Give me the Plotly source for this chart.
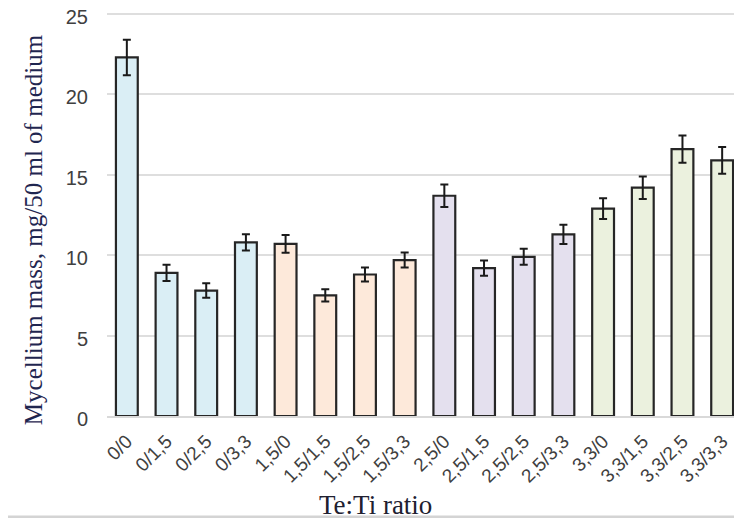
import plotly.graph_objects as go

# ---- data ----
categories = ["0/0", "0/1,5", "0/2,5", "0/3,3",
              "1,5/0", "1,5/1,5", "1,5/2,5", "1,5/3,3",
              "2,5/0", "2,5/1,5", "2,5/2,5", "2,5/3,3",
              "3,3/0", "3,3/1,5", "3,3/2,5", "3,3/3,3"]
mass = [22.3, 8.9, 7.8, 10.8,
        10.7, 7.5, 8.8, 9.7,
        13.7, 9.2, 9.9, 11.3,
        12.9, 14.2, 16.6, 15.9]
err = [1.1, 0.5, 0.45, 0.5,
       0.55, 0.38, 0.44, 0.47,
       0.7, 0.47, 0.5, 0.6,
       0.65, 0.7, 0.85, 0.83]
te_group = ["0", "0", "0", "0",
            "1,5", "1,5", "1,5", "1,5",
            "2,5", "2,5", "2,5", "2,5",
            "3,3", "3,3", "3,3", "3,3"]
y_ticks = [0, 5, 10, 15, 20, 25]

group_colors = {"0": "#DAEEF5", "1,5": "#FDE9DA", "2,5": "#E4E0EE", "3,3": "#EBF1DE"}

fig = go.Figure()
fig.add_trace(go.Bar(
    x=categories, y=mass,
    marker=dict(color=[group_colors[g] for g in te_group],
                line=dict(color="#262626", width=2.2)),
    error_y=dict(type="data", array=err, color="#1a1a1a", thickness=2, width=4),
    width=0.55,
))

# page body has an 8px margin, so the figure is 8px smaller and shifted
W, H = 734, 513
ml, mr, mt, mb = 99, 0, 3, 105
fig.update_layout(
    width=W, height=H,
    margin=dict(l=ml, r=mr, t=mt, b=mb, autoexpand=False),
    paper_bgcolor="white", plot_bgcolor="white",
    showlegend=False,
    xaxis=dict(type="category", tickangle=-45,
               tickfont=dict(family="Liberation Sans", size=19, color="#404040"),
               showgrid=False, showline=True, linecolor="#d9d9d9", linewidth=1.5,
               ticks="", ticklabelstandoff=5, automargin=False),
    yaxis=dict(range=[0, 25.19], tickvals=y_ticks,
               tickfont=dict(family="Liberation Sans", size=20, color="#404040"),
               showgrid=True, gridcolor="#dedede", gridwidth=1.5,
               zeroline=False, showline=False, ticks="",
               ticklabelstandoff=18, ticklabelshift=3,
               ticklabeloverflow="allow", automargin=False),
    annotations=[
        dict(text="Mycellium mass, mg/50 ml of medium", textangle=-90,
             xref="paper", yref="paper", x=-0.1165, y=0.459,
             xanchor="center", yanchor="middle", showarrow=False,
             font=dict(family="Liberation Serif", size=25, color="#1f2650")),
        dict(text="Te:Ti ratio",
             xref="paper", yref="paper", x=0.423, y=-0.2198,
             xanchor="center", yanchor="middle", showarrow=False,
             font=dict(family="Liberation Serif", size=27, color="#202030")),
    ],
    shapes=[dict(type="rect", xref="paper", yref="paper",
                 x0=-0.159, x1=1.05, y0=-0.249, y1=1.02,
                 line=dict(color="#d4d4d4", width=2.5), layer="below")],
)

fig.write_html("out.html")
